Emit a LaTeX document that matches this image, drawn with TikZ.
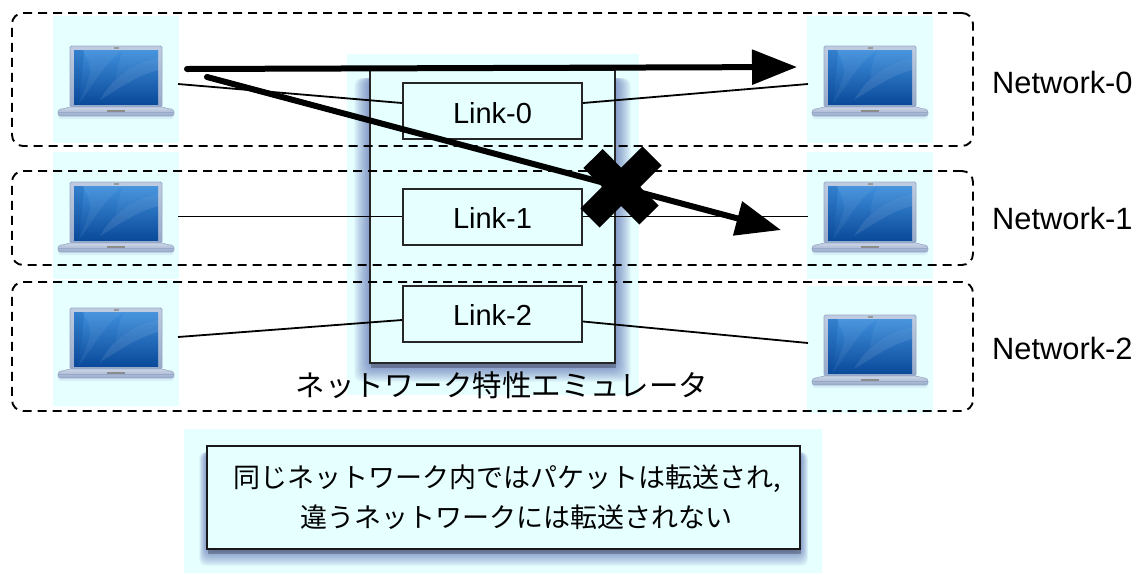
\documentclass[tikz,border=0pt]{standalone}
\usepackage{fontspec}
\setmainfont{Liberation Sans}
\newfontfamily\jpfont{Noto Sans CJK JP}
\usetikzlibrary{arrows.meta}
\definecolor{paleCyan}{HTML}{E6FFFF}
\definecolor{glowBlue}{HTML}{2A3A98}
\definecolor{lidA}{HTML}{C0CCE0}
\definecolor{lidB}{HTML}{97A9C8}
\definecolor{scrTop}{HTML}{3F8FDC}
\definecolor{scrBot}{HTML}{0A4A9A}
\tikzset{
  x=1pt,y=-1pt,
  pcpad/.style={fill=paleCyan,draw=none,inner sep=0pt,minimum width=126pt,minimum height=127pt},
  netbox/.style={draw=black,dashed,dash pattern=on 9pt off 6pt,line width=1.9pt,rounded corners=11pt,inner sep=0pt,minimum width=961pt},
  linkbox/.style={draw=black!85,line width=2pt,fill=paleCyan,inner sep=0pt,minimum width=179pt,minimum height=56pt,text height=24pt,text depth=0pt,font=\fontsize{29}{32}\selectfont},
  wire/.style={draw=black,line width=1.8pt},
  bigarrow/.style={draw=black,line width=6pt,line cap=round,-{Triangle[length=45pt,width=34pt]}},
  crossbar/.style={draw=black,line width=27pt},
  netlabel/.style={anchor=west,inner sep=0pt,font=\fontsize{30.8}{32}\selectfont},
  laptop/.pic={
    % soft shadow
    \fill[glowBlue,opacity=.08,rounded corners=3pt] (-12,62) rectangle (104,73);
    % lid
    \draw[draw=lidB,line width=.8pt,top color=lidA,bottom color=lidB,rounded corners=1.5pt] (0,0) rectangle (92,61);
    % screen
    \fill[top color=scrTop,bottom color=scrBot] (4,4) rectangle (88,58);
    \fill[scrBot,opacity=.22] (4,4) -- (14,4) .. controls (13,25) and (11,40) .. (8,58) -- (4,58) -- cycle;
    \fill[white,opacity=.06] (12,4) .. controls (20,15) and (22,25) .. (18,34) .. controls (16,40) and (12,50) .. (8,58) .. controls (24,40) and (34,15) .. (54,4) -- cycle;
    \fill[white,opacity=.09] (30,54) .. controls (44,30) and (64,16) .. (88,12) -- (88,24) .. controls (66,30) and (50,42) .. (30,54) -- cycle;
    \fill[white,opacity=.05] (54,4) -- (88,4) -- (88,12) .. controls (72,14) and (60,20) .. (46,32) .. controls (48,20) and (50,10) .. (54,4) -- cycle;
    % camera
    \fill[black!40] (43.5,1.4) rectangle (48.5,2.6);
    % base
    \draw[draw=lidB,line width=.6pt,top color=lidA!80!white,bottom color=lidB,rounded corners=2.5pt] (-12,64) -- (0,61) -- (92,61) -- (104,64) -- (104,70) -- (-12,70) -- cycle;
    \draw[lidB,line width=.6pt] (-12,66.5) -- (104,66.5);
    \fill[black!45] (37,64) rectangle (55,66);
  }
}
\begin{document}
\begin{tikzpicture}
\useasboundingbox (0,0) rectangle (1142,574);
\fill[white] (0,0) rectangle (1142,574);

% pale backgrounds
\node[pcpad] (pc0) at (116,79.5) {};
\node[pcpad] (pc1) at (116,215.5) {};
\node[pcpad,minimum height=126pt] (pc2) at (116,343) {};
\node[pcpad] (pd0) at (870,79.5) {};
\node[pcpad] (pd1) at (870,215.5) {};
\node[pcpad] (pd2) at (870,349) {};
\node[fill=paleCyan,inner sep=0pt,minimum width=292pt,minimum height=341pt] (emupad) at (493,224.5) {};
\node[fill=paleCyan,inner sep=0pt,minimum width=638pt,minimum height=144pt] (notepad) at (503,501) {};

% emulator shadow
\foreach \d in {1,...,16}{
  \fill[glowBlue,opacity=.038,rounded corners=8pt]
    (370-\d,78) rectangle (615+\d,366+\d);
}
\fill[black,opacity=.25] (371,363) rectangle (616,368);
\node[fill=paleCyan,draw=black!85,line width=2.6pt,inner sep=0pt,minimum width=245pt,minimum height=293pt] (emu) at (492.5,216.5) {};

% note shadow
\foreach \d in {1,...,16}{
  \fill[glowBlue,opacity=.04,rounded corners=7pt]
    (207-\d*.5,452) rectangle (800+\d*.5,550+\d);
}
\fill[black,opacity=.25] (208,548) rectangle (801,554);

% emulator label
\node[inner sep=0pt,font=\jpfont\fontsize{29.5}{33}\selectfont] (emulabel) at (502,385) {ネットワーク特性エミュレータ};

% laptops
\pic at (70,46) {laptop};
\pic at (70,182) {laptop};
\pic at (70,308) {laptop};
\pic at (824,46) {laptop};
\pic at (824,182) {laptop};
\pic at (824,315) {laptop};

% links
\node[linkbox] (link0) at (492.5,111) {Link-0};
\node[linkbox] (link1) at (492.5,216.5) {Link-1};
\node[linkbox] (link2) at (492.5,313.5) {Link-2};

% network frames
\node[netbox,minimum height=133pt] (net0) at (492.5,79.5) {};
\node[netbox,minimum height=94pt] (net1) at (492.5,218) {};
\node[netbox,minimum height=129pt] (net2) at (492.5,346.5) {};

% network labels
\node[netlabel] (nl0) at (992,82) {Network-0};
\node[netlabel] (nl1) at (992,218) {Network-1};
\node[netlabel] (nl2) at (992,348) {Network-2};

% port coordinates
\coordinate (a0) at (178,84);
\coordinate (a1) at (178,216.5);
\coordinate (a2) at (178,337);
\coordinate (b0) at (808,84);
\coordinate (b1) at (808,216.5);
\coordinate (b2) at (808,343);

% wires
\draw[wire] (a0) -- ([yshift=8pt]link0.west);
\draw[wire] (a1) -- (link1.west);
\draw[wire] (a2) -- ([yshift=-6.5pt]link2.west);
\draw[wire] (b0) -- ([yshift=8pt]link0.east);
\draw[wire] (b1) -- (link1.east);
\draw[wire] (b2) -- ([yshift=-8pt]link2.east);

% big arrows
\coordinate (s0) at (187,69);
\coordinate (t0) at (797,67);
\coordinate (s1) at (207,77);
\coordinate (t1) at (781,230);
\draw[bigarrow] (s0) -- (t0);
\draw[bigarrow] (s1) -- (t1);

% cross
\coordinate (c1) at (593,158.5);
\coordinate (c2) at (649,215);
\coordinate (c3) at (652,156);
\coordinate (c4) at (590,218);
\draw[crossbar] (c1) -- (c2);
\draw[crossbar] (c3) -- (c4);

% note box
\node[fill=paleCyan,draw=black!90,line width=2pt,inner sep=0pt,minimum width=593pt,minimum height=103pt,
      text width=560pt,align=left,font=\jpfont\fontsize{27}{40}\selectfont] (note) at (503.5,497)
  {\hspace*{9.5pt}同じネットワーク内ではパケットは転送され,\\\hspace*{76.5pt}違うネットワークには転送されない};
\end{tikzpicture}
\end{document}
